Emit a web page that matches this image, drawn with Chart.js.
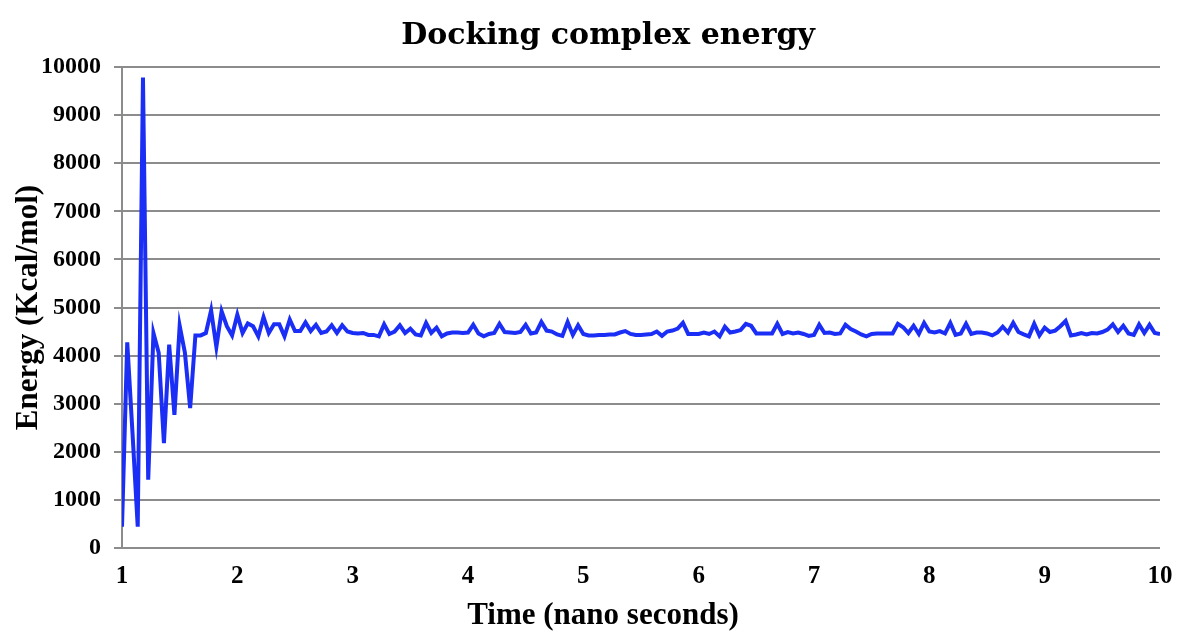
<!DOCTYPE html>
<html>
<head>
<meta charset="utf-8">
<title>Docking complex energy</title>
<script src="https://cdn.jsdelivr.net/npm/chart.js@4/dist/chart.umd.min.js"></script>
<style>
  html, body { margin: 0; padding: 0; background: #fff; }
  #wrap { width: 1182px; height: 635px; }
</style>
</head>
<body>
<div id="wrap"><canvas id="energyChart" width="1182" height="635"></canvas></div>
<script>
const tStart = 1;
const tEnd = 10;
const xTicks = [1, 2, 3, 4, 5, 6, 7, 8, 9, 10];
const yTicks = [0, 1000, 2000, 3000, 4000, 5000, 6000, 7000, 8000, 9000, 10000];

const energy = [
  444, 4277, 2400, 444, 9780, 1420, 4470, 4060, 2180, 4230,
  2770, 4620, 4060, 2910, 4420, 4420, 4470, 4940, 4180, 4920,
  4610, 4420, 4850, 4470, 4670, 4610, 4400, 4800, 4470, 4650,
  4650, 4400, 4750, 4510, 4510, 4690, 4510, 4640, 4470, 4500,
  4630, 4470, 4630, 4500, 4470, 4460, 4470, 4430, 4430, 4400,
  4650, 4450, 4500, 4630, 4470, 4560, 4440, 4420, 4680, 4470,
  4580, 4400, 4460, 4480, 4480, 4470, 4480, 4640, 4460, 4400,
  4450, 4470, 4660, 4490, 4480, 4470, 4490, 4640, 4460, 4480,
  4700, 4520, 4500, 4440, 4410, 4700, 4430, 4630, 4450, 4420,
  4420, 4430, 4430, 4440, 4440, 4480, 4510, 4450, 4430, 4430,
  4440, 4450, 4500, 4410, 4500, 4520, 4560, 4680, 4450, 4450,
  4450, 4480, 4450, 4500, 4400, 4600, 4480, 4500, 4530, 4660,
  4620, 4460, 4460, 4460, 4460, 4660, 4450, 4490, 4460, 4480,
  4450, 4410, 4430, 4640, 4470, 4480, 4450, 4460, 4640, 4550,
  4500, 4440, 4400, 4450, 4460, 4460, 4460, 4460, 4660, 4590,
  4470, 4620, 4450, 4680, 4500, 4480, 4510, 4460, 4680, 4430,
  4460, 4660, 4450, 4480, 4480, 4460, 4420, 4480, 4600, 4480,
  4680, 4490, 4440, 4400, 4660, 4420, 4580, 4490, 4520, 4610,
  4720, 4420, 4440, 4470, 4440, 4470, 4460, 4490, 4540, 4650,
  4490, 4620, 4460, 4430, 4650, 4470, 4640, 4470, 4450
];

const chartTitle = "Docking complex energy";
const xTitle = "Time (nano seconds)";
const yTitle = "Energy (Kcal/mol)";

// samples are evenly spaced between tStart and tEnd
const step = (tEnd - tStart) / (energy.length - 1);
const points = energy.map((v, i) => ({ x: tStart + i * step, y: v }));

const serif = "'Liberation Serif', 'Times New Roman', serif";
const gridGray = "#8c8c8c";

// The original centres its title and x title on the whole figure, not the plot,
// so draw those two ourselves
const figureTitles = {
  id: "figureTitles",
  afterDraw(chart) {
    const ctx = chart.ctx;
    const mid = chart.width / 2;
    ctx.save();
    ctx.fillStyle = "#000";
    ctx.textAlign = "center";
    ctx.textBaseline = "alphabetic";
    ctx.font = "bold 30px 'DejaVu Serif', serif";
    ctx.fillText(chartTitle, mid + 17, 44);
    ctx.font = "bold 31px " + serif;
    ctx.fillText(xTitle, mid + 12, 624);
    ctx.restore();
  }
};

new Chart(document.getElementById("energyChart"), {
  type: "line",
  data: {
    datasets: [{
      label: "Energy",
      data: points,
      borderColor: "#1a2ef5",
      borderWidth: 4,
      pointRadius: 0,
      tension: 0,
      fill: false
    }]
  },
  options: {
    responsive: false,
    animation: false,
    layout: { padding: { left: 0, right: 22, top: 67, bottom: 0 } },
    plugins: {
      legend: { display: false },
      tooltip: { enabled: false },
      title: { display: false }
    },
    scales: {
      x: {
        type: "linear",
        min: tStart,
        max: tEnd,
        afterBuildTicks: scale => { scale.ticks = xTicks.map(v => ({ value: v })); },
        afterFit: scale => { scale.height = 87; },
        grid: { display: false },
        border: { display: false },
        ticks: {
          color: "#000",
          padding: 6,
          maxRotation: 0,
          callback: v => String(v),
          font: { family: serif, size: 25, weight: "bold" }
        }
      },
      y: {
        min: 0,
        max: 10000,
        afterBuildTicks: scale => { scale.ticks = yTicks.map(v => ({ value: v })); },
        afterFit: scale => { scale.width = 122; },
        grid: {
          color: gridGray,
          lineWidth: 2,
          tickLength: 8,
          drawTicks: true
        },
        border: { display: true, color: gridGray, width: 2 },
        ticks: {
          color: "#000",
          padding: 13,
          callback: v => String(v),
          font: { family: serif, size: 24, weight: "bold" }
        },
        title: {
          display: true,
          text: yTitle,
          color: "#000",
          font: { family: serif, size: 31, weight: "bold" },
          padding: { top: 10, bottom: 4 }
        }
      }
    }
  },
  plugins: [figureTitles]
});
</script>
</body>
</html>
